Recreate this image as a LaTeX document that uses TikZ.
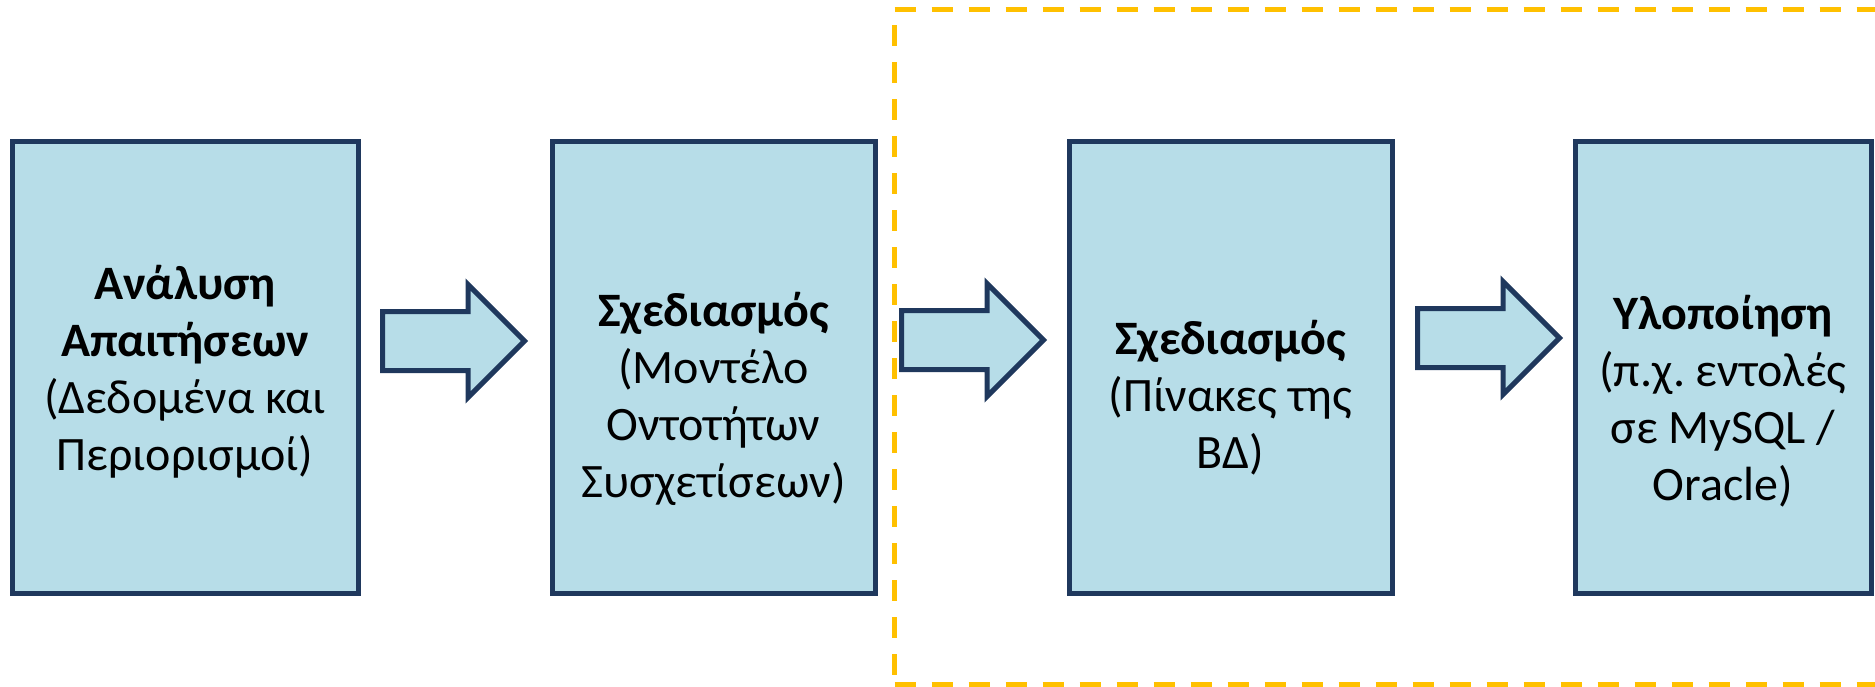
\documentclass[tikz,border=0pt]{standalone}
\usepackage{fontspec}
\setmainfont{Carlito}
\frenchspacing
\usetikzlibrary{positioning,shapes.arrows}
\definecolor{navy}{RGB}{31,56,93}
\definecolor{paleblue}{RGB}{183,221,232}
\definecolor{amber}{RGB}{255,192,0}
\tikzset{
    %Define standard box and arrow looks
    stage/.style={
      rectangle,
      draw=navy, line width=5pt,
      fill=paleblue,
      minimum height=452pt},
    txt/.style={
      align=center,
      font=\fontsize{48}{57}\selectfont},
    flow/.style={
      single arrow,
      draw=navy, line width=5pt,
      fill=paleblue,
      anchor=tail,
      inner xsep=0pt, inner ysep=27pt,
      minimum height=142pt,
      minimum width=108pt,
      single arrow head extend=27pt},
    zone/.style={
      draw=amber, line width=5pt,
      dash pattern=on 21pt off 16pt},
}

\begin{document}
\begin{tikzpicture}[x=1pt,y=-1pt]
    \useasboundingbox (0,0) rectangle (1875,686);
    % dashed frame round the last two steps
    \draw [zone] (894.5,9.5) -- (1875,9.5);
    \draw [zone] (894.5,684) -- (1875,684);
    \draw [zone,dash phase=21.5pt] (894.5,9.5) -- (894.5,684);
    % the four steps
    \node (req) [stage] [minimum width=346pt] at (185,367.5) {};
    \node (erd) [stage] [minimum width=323pt, right=189pt of req] {};
    \node (tables) [stage] [minimum width=323pt, right=189pt of erd] {};
    \node (impl) [stage] [minimum width=296pt, right=178pt of tables] {};
    \node (req-txt) [txt] at ([yshift=-4.5pt]req.center)
          {\textbf{Ανάλυση}\\\textbf{Απαιτήσεων}\\(Δεδομένα και\\Περιορισμοί)};
    \node (erd-txt) [txt] at ([yshift=-31.5pt]erd.center)
          {\textbf{Σχεδιασμός}\\(Μοντέλο\\Οντοτήτων\\Συσχετίσεων)};
    \node (tables-txt) [txt] at ([yshift=-30pt]tables.center)
          {\textbf{Σχεδιασμός}\\(Πίνακες της\\ΒΔ)};
    \node (impl-txt) [txt] at ([yshift=-34pt]impl.center)
          {\textbf{Υλοποίηση}\\(π.χ. εντολές\\σε MySQL /\\Oracle)};
    % block arrows between the steps
    \node (a1) [flow] at (380,341) {};
    \node (a2) [flow] at (899,340) {};
    \node (a3) [flow] at (1415,338) {};
\end{tikzpicture}
\end{document}
